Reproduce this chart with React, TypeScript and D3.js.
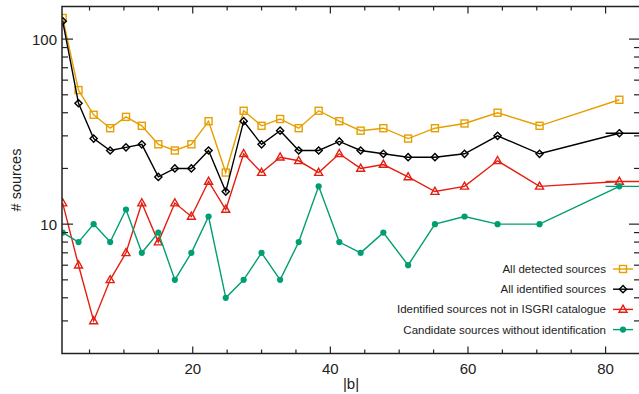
import * as d3 from "d3"
import { useRef, useEffect } from "react"

// |b| bin centres
const latitudes = [1.1, 3.4, 5.6, 8.0, 10.3, 12.6, 15.0, 17.4, 19.8, 22.3, 24.8, 27.4, 30.0, 32.7, 35.4, 38.3, 41.3, 44.4, 47.7, 51.3, 55.2, 59.5, 64.3, 70.4, 82.0]

const detected = [130, 53, 39, 33, 38, 34, 27, 25, 27, 36, 19, 41, 34, 37, 33, 41, 36, 32, 33, 29, 33, 35, 40, 34, 47]
const identified = [125, 45, 29, 25, 26, 27, 18, 20, 20, 25, 15, 36, 27, 32, 25, 25, 28, 25, 24, 23, 23, 24, 30, 24, 31]
const notInIsgri = [13, 6, 3, 5, 7, 13, 8, 13, 11, 17, 12, 24, 19, 23, 22, 19, 24, 20, 21, 18, 15, 16, 22, 16, 17]
const candidates = [9, 8, 10, 8, 12, 7, 9, 5, 7, 11, 4, 5, 7, 5, 8, 16, 8, 7, 9, 6, 10, 11, 10, 10, 16]

const seriesLabels = [
  "All detected sources",
  "All identified sources",
  "Identified sources not in ISGRI catalogue",
  "Candidate sources without identification",
]

// last bin drawn as a horizontal bar
const lastBin = [80, 90]

const xMajor = [20, 40, 60, 80]
const yMajor = [10, 100]

type Marker = "square" | "diamond" | "triangle" | "circle"

export default function App() {
  const svgRef = useRef<SVGSVGElement>(null)

  useEffect(() => {
    if (!svgRef.current) return
    const width = 639
    const height = 394
    const margin = { top: 6.5, right: -1, bottom: 40.5, left: 62 }
    const font = "'Liberation Sans', Arial, sans-serif"
    const frameColor = "#222"

    const svg = d3.select(svgRef.current)
    svg.selectAll("*").remove()
    svg.attr("width", width).attr("height", height)

    const x = d3.scaleLinear().domain([1, 85]).range([margin.left, width - margin.right])
    const y = d3.scaleLog().domain([2, 150]).range([height - margin.bottom, margin.top])
    const [x0, x1] = x.range()
    const [y0, y1] = y.range()

    svg
      .append("defs")
      .append("clipPath")
      .attr("id", "plot-clip")
      .append("rect")
      .attr("x", x0)
      .attr("y", y1)
      .attr("width", x1 - x0)
      .attr("height", y0 - y1)

    const series = [
      { label: seriesLabels[0], values: detected, color: "#e69f00", marker: "square" as Marker, tail: false },
      { label: seriesLabels[1], values: identified, color: "#000000", marker: "diamond" as Marker, tail: true },
      { label: seriesLabels[2], values: notInIsgri, color: "#e51e10", marker: "triangle" as Marker, tail: true },
      { label: seriesLabels[3], values: candidates, color: "#009e73", marker: "circle" as Marker, tail: true },
    ]

    const drawMarker = (g: d3.Selection<SVGGElement, unknown, null, undefined>, m: Marker, color: string, cx: number, cy: number) => {
      if (m === "square") {
        g.append("rect")
          .attr("x", cx - 3.5)
          .attr("y", cy - 3.5)
          .attr("width", 7)
          .attr("height", 7)
          .attr("fill", "none")
          .attr("stroke", color)
          .attr("stroke-width", 1.4)
      } else if (m === "diamond") {
        g.append("path")
          .attr("d", `M${cx},${cy - 3.6}L${cx + 3.6},${cy}L${cx},${cy + 3.6}L${cx - 3.6},${cy}Z`)
          .attr("fill", "none")
          .attr("stroke", color)
          .attr("stroke-width", 1.4)
      } else if (m === "triangle") {
        g.append("path")
          .attr("d", `M${cx},${cy - 4.3}L${cx + 4},${cy + 2.8}L${cx - 4},${cy + 2.8}Z`)
          .attr("fill", "none")
          .attr("stroke", color)
          .attr("stroke-width", 1.4)
      } else {
        g.append("circle").attr("cx", cx).attr("cy", cy).attr("r", 3.1).attr("fill", color)
      }
    }

    const line = d3
      .line<number>()
      .x((_, i) => x(latitudes[i]))
      .y((d) => y(d))

    const plot = svg.append("g").attr("clip-path", "url(#plot-clip)")
    series.forEach((s) => {
      plot
        .append("path")
        .datum(s.values)
        .attr("fill", "none")
        .attr("stroke", s.color)
        .attr("stroke-width", 1.4)
        .attr("d", line)
      if (s.tail) {
        const last = s.values[s.values.length - 1]
        plot
          .append("line")
          .attr("x1", x(lastBin[0]))
          .attr("x2", x(lastBin[1]))
          .attr("y1", y(last))
          .attr("y2", y(last))
          .attr("stroke", s.color)
          .attr("stroke-width", 1.4)
      }
      const mg = plot.append("g")
      s.values.forEach((v, i) => drawMarker(mg, s.marker, s.color, x(latitudes[i]), y(v)))
    })

    // frame
    svg
      .append("rect")
      .attr("x", x0)
      .attr("y", y1)
      .attr("width", x1 - x0)
      .attr("height", y0 - y1)
      .attr("fill", "none")
      .attr("stroke", frameColor)
      .attr("stroke-width", 1.5)

    // x ticks, bottom and top
    const xTicks = d3.range(5, 85, 5)
    const axes = svg.append("g").attr("stroke", frameColor).attr("stroke-width", 1.2)
    xTicks.forEach((t) => {
      const len = xMajor.includes(t) ? 7 : 4
      axes.append("line").attr("x1", x(t)).attr("x2", x(t)).attr("y1", y0).attr("y2", y0 - len)
      axes.append("line").attr("x1", x(t)).attr("x2", x(t)).attr("y1", y1).attr("y2", y1 + len)
    })

    // y ticks, left and right
    const yTicks = [3, 4, 5, 6, 7, 8, 9, 10, 20, 30, 40, 50, 60, 70, 80, 90, 100]
    yTicks.forEach((t) => {
      const len = yMajor.includes(t) ? 11 : 6
      axes.append("line").attr("x1", x0).attr("x2", x0 + len).attr("y1", y(t)).attr("y2", y(t))
      axes.append("line").attr("x1", x1).attr("x2", x1 - len).attr("y1", y(t)).attr("y2", y(t))
    })

    svg
      .append("g")
      .selectAll("text")
      .data(xMajor)
      .enter()
      .append("text")
      .attr("x", (d) => x(d))
      .attr("y", y0 + 20)
      .attr("text-anchor", "middle")
      .style("font-family", font)
      .style("font-size", "15px")
      .style("fill", "#222")
      .text((d) => d)

    svg
      .append("g")
      .selectAll("text")
      .data(yMajor)
      .enter()
      .append("text")
      .attr("x", x0 - 5)
      .attr("y", (d) => y(d) + 5.5)
      .attr("text-anchor", "end")
      .style("font-family", font)
      .style("font-size", "15px")
      .style("fill", "#222")
      .text((d) => d)

    svg
      .append("text")
      .attr("x", (x0 + x1) / 2)
      .attr("y", height - 5)
      .attr("text-anchor", "middle")
      .style("font-family", font)
      .style("font-size", "15px")
      .style("fill", "#222")
      .text("|b|")

    svg
      .append("text")
      .attr("transform", `translate(21,${(y0 + y1) / 2}) rotate(-90)`)
      .attr("text-anchor", "middle")
      .style("font-family", font)
      .style("font-size", "14.5px")
      .style("fill", "#222")
      .text("# sources")

    // legend
    const legend = svg.append("g")
    series.forEach((s, i) => {
      const ly = 269 + i * 20.2
      legend
        .append("text")
        .attr("x", 606)
        .attr("y", ly + 4)
        .attr("text-anchor", "end")
        .style("font-family", font)
        .style("font-size", "11.5px")
        .style("fill", "#222")
        .text(s.label)
      legend
        .append("line")
        .attr("x1", 613)
        .attr("x2", 633)
        .attr("y1", ly)
        .attr("y2", ly)
        .attr("stroke", s.color)
        .attr("stroke-width", 1.4)
      drawMarker(legend, s.marker, s.color, 623, ly)
    })
  }, [])

  return (
    <div style={{ position: "absolute", left: 0, top: 0, width: 639, height: 394, background: "#fff" }}>
      <svg ref={svgRef}></svg>
    </div>
  )
}
